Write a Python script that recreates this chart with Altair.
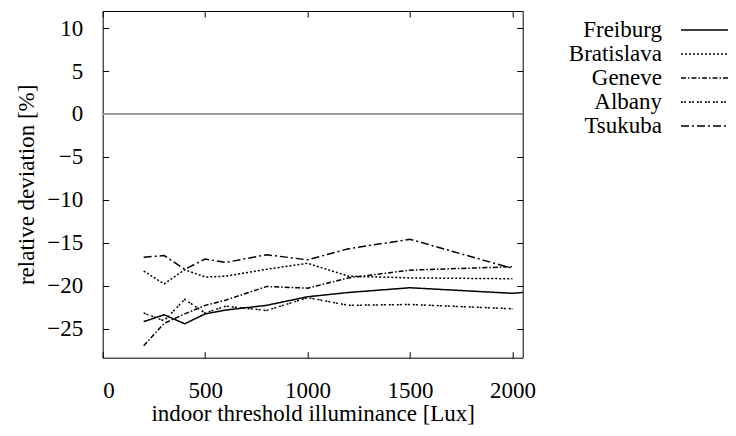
import altair as alt
import pandas as pd

# ---- data ----
x_vals = [200, 300, 400, 500, 600, 800, 1000, 1200, 1500, 2000]
freiburg_x = [200, 300, 400, 500, 600, 800, 1000, 1200, 1500, 2000, 2050]
freiburg = [-24.2, -23.4, -24.45, -23.3, -22.85, -22.3, -21.3, -20.8, -20.25, -20.9, -20.8]
bratislava = [-18.3, -19.8, -18.15, -19.0, -18.9, -18.1, -17.4, -18.9, -19.1, -19.2]
geneve = [-27.0, -24.4, -23.3, -22.3, -21.7, -20.1, -20.3, -19.1, -18.2, -17.8]
albany = [-23.2, -24.1, -21.6, -23.2, -22.4, -22.9, -21.4, -22.3, -22.2, -22.7]
tsukuba = [-16.7, -16.5, -18.1, -16.9, -17.3, -16.4, -17.0, -15.7, -14.6, -18.0]

series_names = ["Freiburg", "Bratislava", "Geneve", "Albany", "Tsukuba"]
x_ticks = [0, 500, 1000, 1500, 2000]
y_ticks = [-25, -20, -15, -10, -5, 0, 5, 10]

rows = []
for name, xs, ys in [
    ("Freiburg", freiburg_x, freiburg),
    ("Bratislava", x_vals, bratislava),
    ("Geneve", x_vals, geneve),
    ("Albany", x_vals, albany),
    ("Tsukuba", x_vals, tsukuba),
]:
    for xv, yv in zip(xs, ys):
        rows.append({"x": xv, "y": yv, "series": name})
df = pd.DataFrame(rows)

FONT = "Liberation Serif"
FS = 23
W, H = 420, 346.7
xscale = alt.Scale(domain=[0, 2050], nice=False, zero=False)
yscale = alt.Scale(domain=[-28.4, 12], nice=False, zero=False)
dash_styles = [[1, 0], [2, 2], [5, 2, 1.5, 2], [2, 1, 2, 3], [8, 3, 2, 3]]

common_axis = dict(grid=False, domain=False, labelFont=FONT, titleFont=FONT,
                   labelFontSize=FS, titleFontSize=FS, titleFontWeight="normal",
                   labelColor="black", titleColor="black", tickColor="black",
                   format="d")

zero_line = alt.Chart(df).mark_rule(color="#9a9a9a", strokeWidth=1).encode(
    y=alt.YDatum(0, scale=yscale, axis=None)
)

lines = alt.Chart(df).mark_line(color="black", strokeWidth=1.5).encode(
    x=alt.X("x:Q", scale=xscale,
            axis=alt.Axis(orient="bottom", values=x_ticks, ticks=False, labelPadding=22,
                          title="indoor threshold illuminance [Lux]", titlePadding=0,
                          **common_axis)),
    y=alt.Y("y:Q", scale=yscale,
            axis=alt.Axis(orient="left", values=y_ticks, ticks=False, labelPadding=20,
                          title="relative deviation [%]", titlePadding=8,
                          **common_axis)),
    strokeDash=alt.StrokeDash(
        "series:N",
        scale=alt.Scale(domain=series_names, range=dash_styles),
        legend=alt.Legend(orient="none", legendX=594.3, legendY=7.5, title=None,
                          symbolType="M-5,0H5", symbolSize=121, symbolStrokeWidth=1.5,
                          symbolStrokeColor="black", symbolFillColor="transparent",
                          labelAlign="right",
                          labelOffset={"expr": "-58"},
                          labelFont=FONT, labelFontSize=FS, labelColor="black",
                          rowPadding={"expr": "-1.7"}, padding=0),
    ),
    order=alt.Order("x:Q"),
)

ticks_a = alt.Chart(df).mark_point(opacity=0).encode(
    x=alt.X("x:Q", scale=xscale,
            axis=alt.Axis(orient="top", offset=-H, values=x_ticks, labels=False,
                          title=None, tickSize=6, **common_axis)),
    y=alt.Y("y:Q", scale=yscale,
            axis=alt.Axis(orient="right", offset=-W, values=y_ticks, labels=False,
                          title=None, tickSize=6, **common_axis)),
)

ticks_b = alt.Chart(df).mark_point(opacity=0).encode(
    x=alt.X("x:Q", scale=xscale,
            axis=alt.Axis(orient="bottom", offset=-H, values=x_ticks, labels=False,
                          title=None, tickSize=6, **common_axis)),
    y=alt.Y("y:Q", scale=yscale,
            axis=alt.Axis(orient="left", offset=-W, values=y_ticks, labels=False,
                          title=None, tickSize=6, **common_axis)),
)

chart = alt.layer(zero_line, lines, ticks_a, ticks_b).resolve_axis(
    x="independent", y="independent"
).properties(
    width=W, height=H,
    autosize=alt.AutoSizeParams(type="none"),
    padding={"left": 94.7, "top": 3, "right": 205, "bottom": 70},
    background="white",
).configure_view(stroke="black", strokeWidth=1)

chart.save("out.html", embed_options={"renderer": "svg", "actions": False})
